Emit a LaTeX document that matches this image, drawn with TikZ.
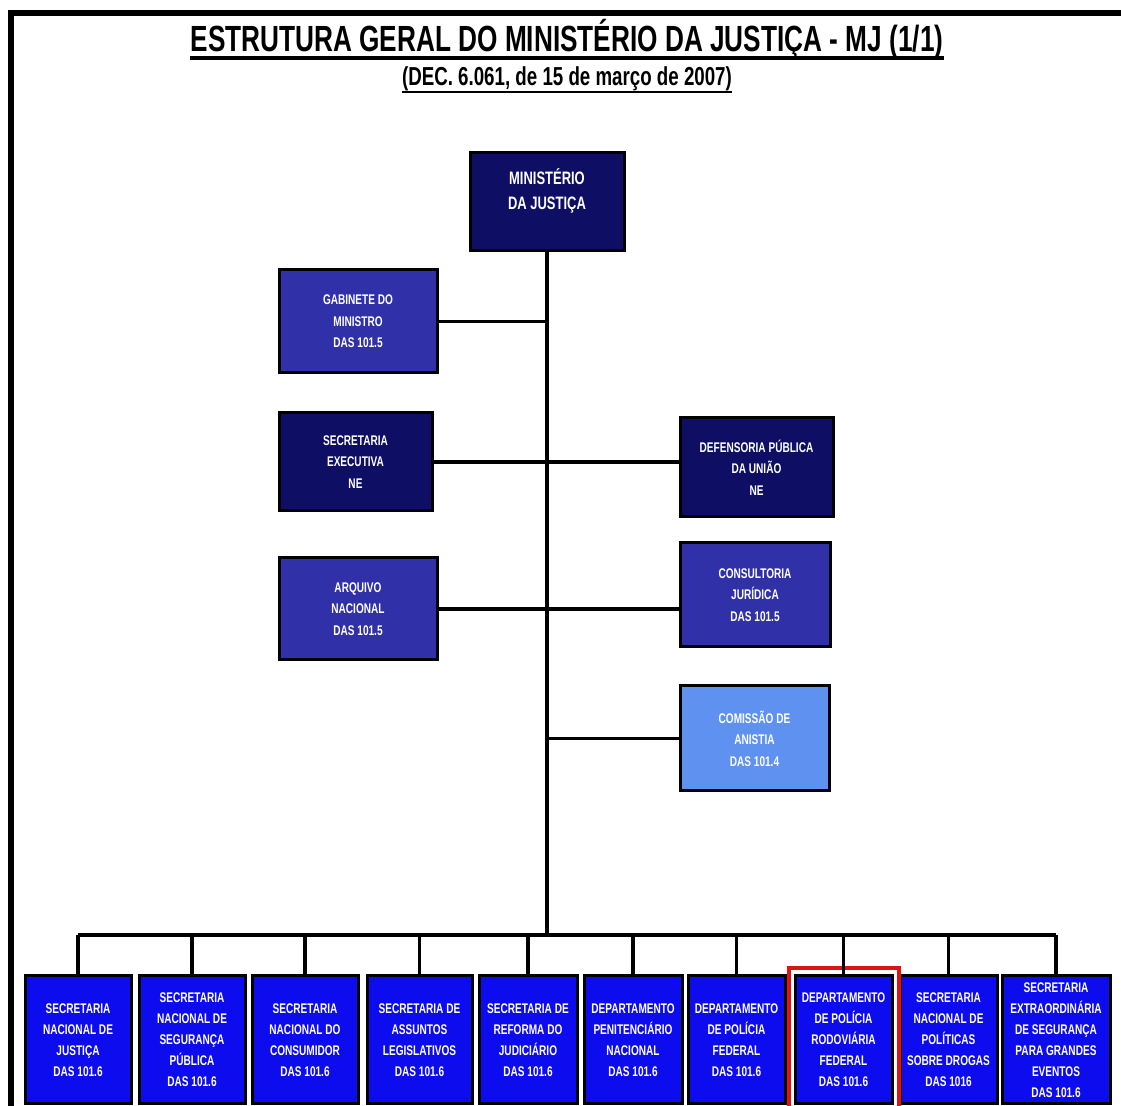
\documentclass[tikz,border=0pt]{standalone}
\usepackage{fontspec}
\setmainfont{Liberation Sans}[FakeStretch=0.72]
\usetikzlibrary{positioning}
\definecolor{navyblue}{RGB}{14,14,100}
\definecolor{midblue}{RGB}{48,48,168}
\definecolor{lightblue}{RGB}{95,145,240}
\definecolor{brightblue}{RGB}{12,12,238}
\definecolor{markred}{RGB}{220,20,20}

\begin{document}
\begin{tikzpicture}[x=0.5pt, y=-0.5pt,
  topbox/.style={draw=black, line width=1.5pt, text=white, align=center,
    font=\bfseries\fontsize{7}{10.75}\selectfont},
  unitbox/.style={draw=black, line width=1.5pt, fill=brightblue, text=white,
    align=center, inner sep=0pt, minimum height=64pt,
    font=\bfseries\fontsize{7}{10.5}\selectfont},
  link/.style={line width=1.6pt}]
  \useasboundingbox (0,0) rectangle (1121,1106);

  % Frame
  \draw[line width=3pt] (11,1106) -- (11,13) -- (1121,13);

  % Title
  \node[anchor=base, inner sep=0pt, font=\bfseries\fontsize{18.2}{20}\selectfont] (title) at (567,52)
    {ESTRUTURA GERAL DO MINISTÉRIO DA JUSTIÇA - MJ (1/1)};
  \draw[line width=2pt] ([yshift=-3pt]title.base west) -- ([yshift=-3pt]title.base east);
  \node[anchor=base, inner sep=0pt, font=\bfseries\fontsize{13}{15}\selectfont] (subtitle) at (567,86)
    {(DEC. 6.061, de 15 de março de 2007)};
  \draw[line width=1.2pt] ([yshift=-3pt]subtitle.base west) -- ([yshift=-3pt]subtitle.base east);

  % Ministry
  \node[topbox, fill=navyblue, minimum width=77pt, minimum height=49pt,
    font=\bfseries\fontsize{9}{12.5}\selectfont] (mj) at (547,202) {MINISTÉRIO\\DA JUSTIÇA\\~};

  % Direct units
  \node[topbox, fill=midblue, minimum width=79pt, minimum height=51.5pt] (gab) at (358,321.5)
    {GABINETE DO\\MINISTRO\\DAS 101.5};
  \node[topbox, fill=navyblue, minimum width=76.5pt, minimum height=49pt] (se) at (355.5,462)
    {SECRETARIA\\EXECUTIVA\\NE};
  \node[topbox, fill=midblue, minimum width=79pt, minimum height=51pt] (arq) at (358,609)
    {ARQUIVO\\NACIONAL\\DAS 101.5};
  \node[topbox, fill=navyblue, minimum width=76.5pt, minimum height=49.5pt] (def) at (756.5,467.5)
    {DEFENSORIA PÚBLICA\\DA UNIÃO\\NE};
  \node[topbox, fill=midblue, minimum width=75pt, minimum height=52pt] (cons) at (755,595)
    {CONSULTORIA\\JURÍDICA\\DAS 101.5};
  \node[topbox, fill=lightblue, minimum width=74.5pt, minimum height=52.5pt] (com) at (754.5,738.5)
    {COMISSÃO DE\\ANISTIA\\DAS 101.4};

  % Specific units
  \node[unitbox, minimum width=53pt] (b1) at (78,1040)
    {SECRETARIA\\NACIONAL DE\\JUSTIÇA\\DAS 101.6};
  \node[unitbox, minimum width=53pt] (b2) at (192,1040)
    {SECRETARIA\\NACIONAL DE\\SEGURANÇA\\PÚBLICA\\DAS 101.6};
  \node[unitbox, minimum width=53pt] (b3) at (305,1040)
    {SECRETARIA\\NACIONAL DO\\CONSUMIDOR\\DAS 101.6};
  \node[unitbox, minimum width=52.5pt] (b4) at (419.5,1040)
    {SECRETARIA DE\\ASSUNTOS\\LEGISLATIVOS\\DAS 101.6};
  \node[unitbox, minimum width=49pt] (b5) at (528,1040)
    {SECRETARIA DE\\REFORMA DO\\JUDICIÁRIO\\DAS 101.6};
  \node[unitbox, minimum width=49pt] (b6) at (633,1040)
    {DEPARTAMENTO\\PENITENCIÁRIO\\NACIONAL\\DAS 101.6};
  \node[unitbox, minimum width=48.5pt] (b7) at (736.5,1040)
    {DEPARTAMENTO\\DE POLÍCIA\\FEDERAL\\DAS 101.6};
  \node[unitbox, minimum width=48.5pt] (b8) at (843.5,1040)
    {DEPARTAMENTO\\DE POLÍCIA\\RODOVIÁRIA\\FEDERAL\\DAS 101.6};
  \node[unitbox, minimum width=48.5pt] (b9) at (948.5,1040)
    {SECRETARIA\\NACIONAL DE\\POLÍTICAS\\SOBRE DROGAS\\DAS 1016};
  \node[unitbox, minimum width=54pt] (b10) at (1056,1040)
    {SECRETARIA\\EXTRAORDINÁRIA\\DE SEGURANÇA\\PARA GRANDES\\EVENTOS\\DAS 101.6};

  % Highlight
  \draw[markred, line width=2pt] ([shift={(-2.5pt,-2pt)}]b8.south west) rectangle ([shift={(2.5pt,3pt)}]b8.north east);

  % Connectors
  \coordinate (bus) at (549,935);
  \draw[link] (mj.south) -- (mj.south |- bus);
  \draw[link] (gab.east) -- (gab.east -| mj.south);
  \draw[link] (se.east) -- (se.east -| def.west);
  \draw[link] (arq.east) -- (arq.east -| cons.west);
  \draw[link] (com.west) -- (com.west -| mj.south);
  \draw[link] (b1.north |- bus) -- (b10.north |- bus);
  \foreach \i in {1,...,10}
    \draw[link] (b\i.north |- bus) -- (b\i.north);
\end{tikzpicture}
\end{document}
